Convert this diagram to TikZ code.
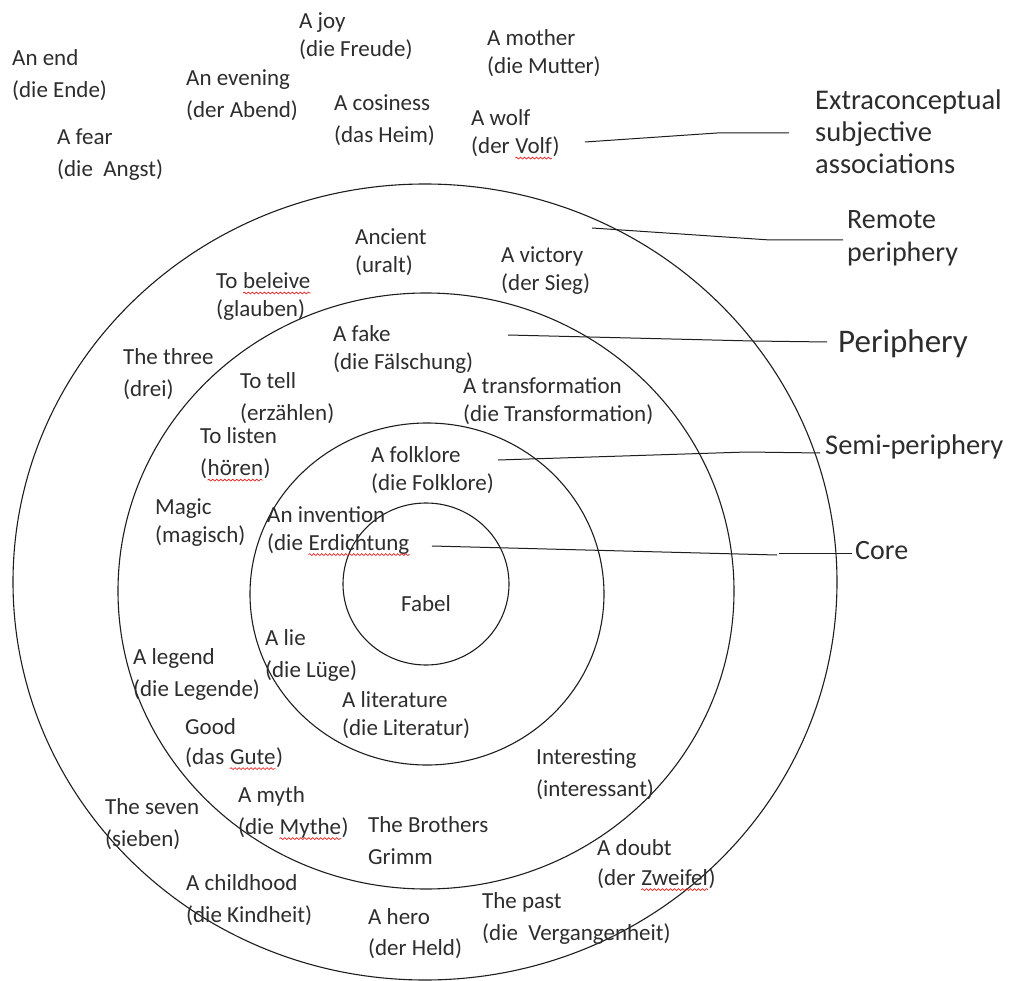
\documentclass[tikz,border=0pt]{standalone}
\usepackage{fontspec}
\setmainfont{Carlito}
\usetikzlibrary{decorations.pathmorphing}
\definecolor{linecolor}{RGB}{30, 30, 30}
\definecolor{textcolor}{RGB}{45, 45, 45}
\definecolor{spellcolor}{RGB}{225, 35, 35}

% red wavy spell-check underline
\newcommand{\typo}[1]{\tikz[baseline=(w.base)]{\node[inner sep=0pt, anchor=base] (w) {#1};
  \draw[spellcolor, line width=0.7pt, decorate, decoration={snake, amplitude=0.9pt, segment length=4pt}]
    ([yshift=-4.5pt]w.base west) -- ([yshift=-4.5pt]w.base east);}}

\begin{document}
\begin{tikzpicture}[x=1pt, y=-1pt,
  ring/.style={draw=linecolor, line width=1.1pt},
  leader/.style={draw=linecolor, line width=1pt},
  entry/.style={anchor=west, inner sep=0pt, align=left, text=textcolor, yshift=-2pt, font=\fontsize{23}{#1}\selectfont},
  entry/.default=32,
  level/.style={anchor=west, inner sep=0pt, align=left, text=textcolor}]

  % Canvas
  \fill[white] (0,0) rectangle (1009,981);
  \useasboundingbox (0,0) rectangle (1009,981);

  % Rings
  \draw[ring] (425,582) ellipse [x radius=412pt, y radius=398pt];
  \draw[ring] (426,591) ellipse [x radius=308pt, y radius=298pt];
  \draw[ring] (427,594) ellipse [x radius=177pt, y radius=171pt];
  \draw[ring] (426,584) ellipse [x radius=83pt, y radius=81pt];

  % Extraconceptual subjective associations
  \node[entry] (end) at (12,73) {An end\\(die Ende)};
  \node[entry] (fear) at (57,152.5) {A fear\\(die\ \ Angst)};
  \node[entry] (evening) at (186,93) {An evening\\(der Abend)};
  \node[entry=28] (joy) at (299,34.5) {A joy\\(die Freude)};
  \node[entry] (cosiness) at (334,118.5) {A cosiness\\(das Heim)};
  \node[entry=28] (mother) at (487,51) {A mother\\(die Mutter)};
  \node[entry=28] (wolf) at (471,132.5) {A wolf\\(der \typo{Volf})};

  % Remote periphery
  \node[entry=28] (ancient) at (355,250) {Ancient\\(uralt)};
  \node[entry=28] (victory) at (501,268.5) {A victory\\(der Sieg)};
  \node[entry=28] (believe) at (216,294.5) {To \typo{beleive}\\(glauben)};
  \node[entry] (three) at (123,372.5) {The three\\(drei)};
  \node[entry=28] (magic) at (155,521) {Magic\\(magisch)};
  \node[entry] (legend) at (133,672.5) {A legend\\(die Legende)};
  \node[entry] (seven) at (105,822) {The seven\\(sieben)};
  \node[entry] (childhood) at (186,898.5) {A childhood\\(die Kindheit)};
  \node[entry=31] (hero) at (368,931.5) {A hero\\(der Held)};
  \node[entry] (past) at (482,916.5) {The past\\(die\ \ Vergangenheit)};
  \node[entry=30] (doubt) at (597,863) {A doubt\\(der \typo{Zweifel})};

  % Periphery
  \node[entry=28] (fake) at (333,347) {A fake\\(die Fälschung)};
  \node[entry] (tell) at (240,396.5) {To tell\\(erzählen)};
  \node[entry=28] (transformation) at (463,399.5) {A transformation\\(die Transformation)};
  \node[entry] (listen) at (200,452.5) {To listen\\(\typo{hören})};
  \node[entry=30] (good) at (185,742) {Good\\(das \typo{Gute})};
  \node[entry] (myth) at (238,811) {A myth\\(die \typo{Mythe})};
  \node[entry] (brothers) at (368,838.5) {The Brothers\\Grimm};
  \node[entry] (interesting) at (536,772) {Interesting\\(interessant)};

  % Semi-periphery
  \node[entry=28] (folklore) at (371,468.5) {A folklore\\(die Folklore)};
  \node[entry=28] (invention) at (267,529) {An invention\\(die \typo{Erdichtung}};
  \node[entry] (lie) at (265,653) {A lie\\(die Lüge)};
  \node[entry=28] (literature) at (342,713) {A literature\\(die Literatur)};

  % Core
  \node[inner sep=0pt, text=textcolor, font=\fontsize{23}{28}\selectfont] (fabel) at (426,604) {Fabel};

  % Level labels
  \node[level, font=\fontsize{28.5}{32}\selectfont] (ext) at (815,132) {Extraconceptual\\subjective\\associations};
  \node[level, font=\fontsize{28}{33}\selectfont] (remote) at (847,238.5) {Remote\\periphery};
  \node[level, font=\fontsize{33}{36}\selectfont] (periph) at (838,344) {Periphery};
  \node[level, font=\fontsize{28.5}{32}\selectfont] (semi) at (825,447) {Semi-periphery};
  \node[level, font=\fontsize{28}{32}\selectfont] (core) at (855,551) {Core};

  % Leader lines
  \coordinate (extA) at (585,142);
  \coordinate (extB) at (717,133);
  \coordinate (extC) at (789,133);
  \coordinate (remA) at (592,228);
  \coordinate (remB) at (770,240);
  \coordinate (remC) at (843,240);
  \coordinate (perA) at (508,335);
  \coordinate (perB) at (753,341);
  \coordinate (perC) at (827,342);
  \coordinate (semA) at (498,460);
  \coordinate (semB) at (747,452);
  \coordinate (semC) at (820,453);
  \coordinate (corA) at (432,546);
  \coordinate (corB) at (777,555);
  \coordinate (corC) at (779,553);
  \coordinate (corD) at (852,553);

  \draw[leader] (extA) -- (extB) -- (extC);
  \draw[leader] (remA) -- (remB) -- (remC);
  \draw[leader] (perA) -- (perB) -- (perC);
  \draw[leader] (semA) -- (semB) -- (semC);
  \draw[leader] (corA) -- (corB);
  \draw[leader] (corC) -- (corD);
\end{tikzpicture}
\end{document}
